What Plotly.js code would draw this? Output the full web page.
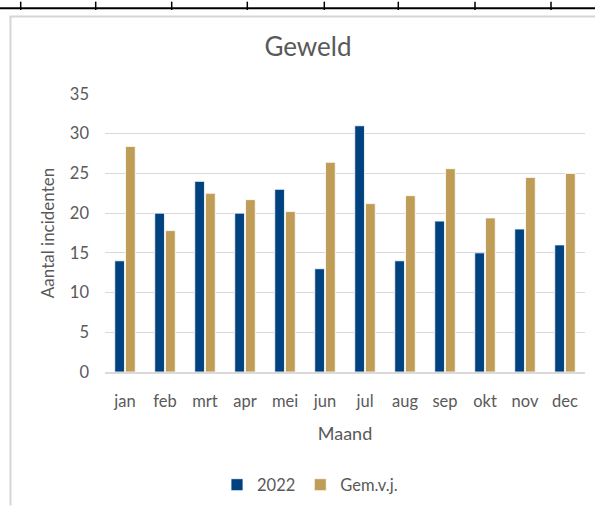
<!DOCTYPE html>
<html>
<head>
<meta charset="utf-8">
<script src="https://cdn.plot.ly/plotly-3.0.1.min.js"></script>
<style>html,body{margin:0;padding:0;background:#fff;overflow:hidden;}#chart{width:595px;height:513px;}</style>
</head>
<body>
<div id="chart"></div>
<script>
const months = ['jan','feb','mrt','apr','mei','jun','jul','aug','sep','okt','nov','dec'];
const series2022 = [14, 20, 24, 20, 23, 13, 31, 14, 19, 15, 18, 16];
const seriesGem = [28.4, 17.8, 22.5, 21.7, 20.2, 26.4, 21.2, 22.2, 25.6, 19.4, 24.5, 25.0];
const yTicks = [0, 5, 10, 15, 20, 25, 30, 35];

const W = 595, H = 513;
const M = {l: 105, r: 10, t: 94, b: 136};
const PW = W - M.l - M.r, PH = H - M.t - M.b;
const px = x => (x - M.l) / PW;
const py = y => (H - M.b - y) / PH;

const FONT = 'Lato, "Open Sans", sans-serif';
const GRAY = '#595959';

const shapes = [];
// outer chart border (only left and top edges are inside the picture)
shapes.push({type:'line', xref:'paper', yref:'paper', x0: px(10.5), x1: px(10.5), y0: py(H), y1: py(14.5),
  line:{color:'#d6d6d6', width:2}});
shapes.push({type:'line', xref:'paper', yref:'paper', x0: px(9.5), x1: px(W), y0: py(15.2), y1: py(15.2),
  line:{color:'#d6d6d6', width:2}});
// table strip at the top
shapes.push({type:'line', xref:'paper', yref:'paper', x0: px(0), x1: px(W), y0: py(6.8), y1: py(6.8),
  line:{color:'#000', width:2}});
[20.7, 95.7, 171.7, 247.3, 324.3, 398.3, 475, 551].forEach(x => {
  shapes.push({type:'line', xref:'paper', yref:'paper', x0: px(x), x1: px(x), y0: py(0), y1: py(8.5),
    line:{color:'#000', width:1.5}});
});

const data = [
  {type:'bar', name:'2022', x: months, y: series2022,
   marker:{color:'#00427F', line:{color:'#ffffff', width:0.8}}},
  {type:'bar', name:'Gem.v.j.', x: months, y: seriesGem,
   marker:{color:'#BF9D57', line:{color:'#ffffff', width:0.8}}}
];

const layout = {
  width: W, height: H,
  margin: M,
  paper_bgcolor:'#fff', plot_bgcolor:'#fff',
  font:{family: FONT, color: GRAY, size: 16},
  barmode:'group', bargap: 0.46, bargroupgap: 0.1,
  title:{text:'Geweld', font:{family: FONT, size: 26, color: GRAY},
         xref:'paper', x: px(308), xanchor:'center', yref:'container', y: 1 - 47/H, yanchor:'middle'},
  xaxis:{
    title:{text:'Maand', font:{family: FONT, size: 18, color: GRAY}, standoff: 17},
    tickfont:{family: FONT, size: 16.5, color: GRAY},
    showgrid:false, zeroline:false, showline:true, linecolor:'#d9d9d9', linewidth:1.5,
    ticks:'', ticklabelstandoff: 14, automargin:false
  },
  yaxis:{
    title:{text:'Aantal incidenten', font:{family: FONT, size: 17, color: GRAY}, standoff: 10},
    range:[0, 35], tickvals: yTicks, ticktext: yTicks.map(String),
    tickfont:{family: FONT, size: 16.5, color: GRAY},
    showgrid:true, gridcolor:'#d9d9d9', gridwidth:1.2, zeroline:false, showline:false,
    ticks:'', ticklabelstandoff: 15, automargin:false
  },
  showlegend:true,
  legend:{orientation:'h', x: px(310), xanchor:'center', y: py(492), yanchor:'middle',
          font:{family: FONT, size: 16.5, color: GRAY}, traceorder:'normal', itemwidth:30},
  shapes: shapes
};

Plotly.newPlot('chart', data, layout, {displayModeBar:false, staticPlot:true});
</script>
</body>
</html>
